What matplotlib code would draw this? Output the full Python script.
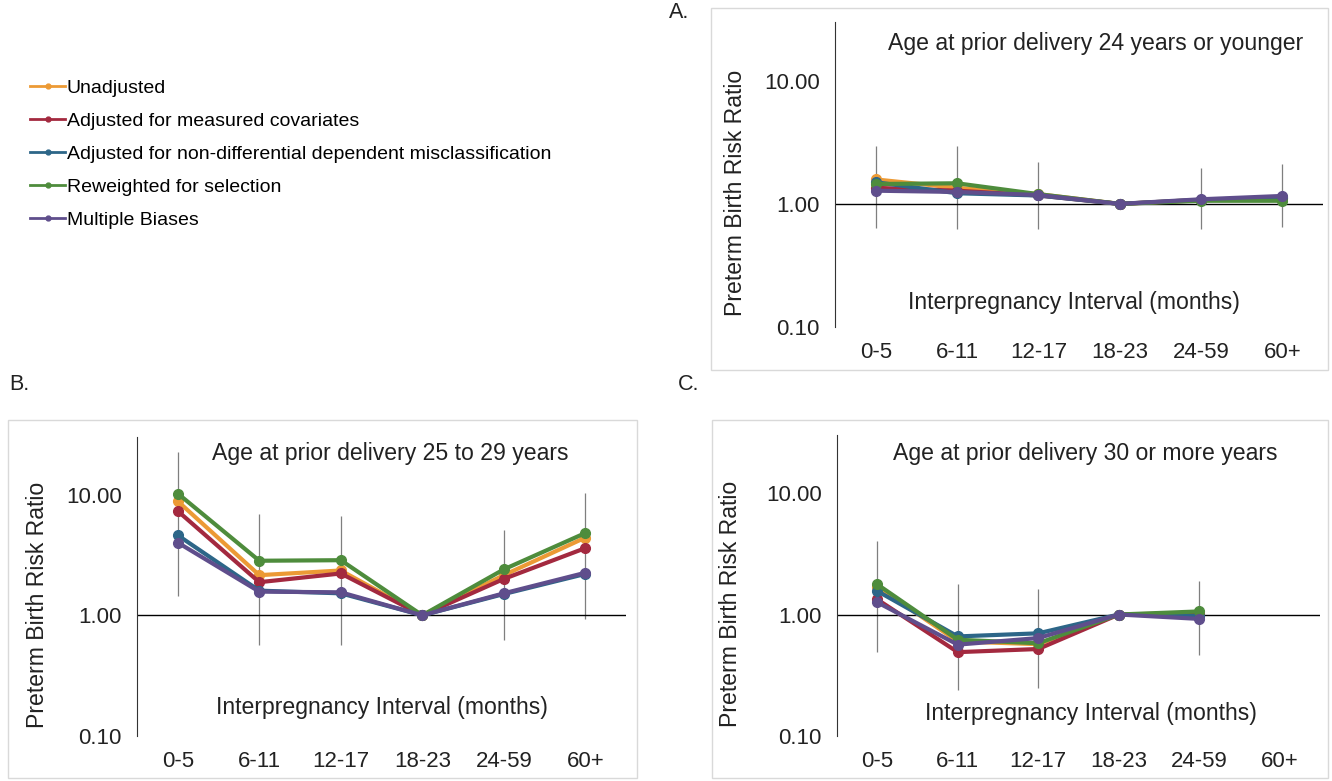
import numpy as np
import matplotlib.pyplot as plt
import matplotlib.patches as mpatches
from matplotlib.lines import Line2D
from matplotlib.ticker import FixedLocator, FixedFormatter, NullLocator

plt.rcParams['font.family'] = ['Liberation Sans', 'DejaVu Sans']

intervals = ['0-5', '6-11', '12-17', '18-23', '24-59', '60+']
series_names = ['Unadjusted',
                'Adjusted for measured covariates',
                'Adjusted for non-differential dependent misclassification',
                'Reweighted for selection',
                'Multiple Biases']
colors = ['#EC9A35', '#A3293F', '#2D6688', '#4E8C3C', '#5F4E8C']

# A. age 24 or younger
a_unadj = [1.58, 1.35, 1.20, 1.00, 1.08, 1.12]
a_adj = [1.35, 1.28, 1.17, 1.00, 1.07, 1.12]
a_misc = [1.50, 1.22, 1.17, 1.00, 1.08, 1.13]
a_rewt = [1.45, 1.47, 1.20, 1.00, 1.06, 1.06]
a_multi = [1.28, 1.25, 1.18, 1.00, 1.09, 1.16]
a_lo = [0.64, 0.62, 0.62, np.nan, 0.62, 0.65]
a_hi = [2.95, 2.95, 2.20, np.nan, 1.95, 2.10]

# B. age 25 to 29
b_unadj = [8.8, 2.15, 2.35, 1.00, 2.15, 4.4]
b_adj = [7.3, 1.88, 2.22, 1.00, 2.00, 3.6]
b_misc = [4.6, 1.60, 1.52, 1.00, 1.50, 2.2]
b_rewt = [10.2, 2.83, 2.86, 1.00, 2.40, 4.8]
b_multi = [4.0, 1.57, 1.55, 1.00, 1.52, 2.25]
b_lo = [1.45, 0.57, 0.57, np.nan, 0.63, 0.93]
b_hi = [22.5, 6.9, 6.7, np.nan, 5.05, 10.4]

# C. age 30 or more
c_unadj = [1.70, 0.60, 0.57, 1.00, 1.03, np.nan]
c_adj = [1.33, 0.49, 0.52, 1.00, 1.00, np.nan]
c_misc = [1.56, 0.66, 0.70, 1.00, 0.97, np.nan]
c_rewt = [1.77, 0.62, 0.58, 1.00, 1.06, np.nan]
c_multi = [1.26, 0.565, 0.64, 1.00, 0.92, np.nan]
c_lo = [0.49, 0.24, 0.25, np.nan, 0.46, np.nan]
c_hi = [4.00, 1.77, 1.63, np.nan, 1.88, np.nan]

fig = plt.figure(figsize=(13.32, 7.81), dpi=100, facecolor='white')

# light grey frames round each panel
for (x0, y0, w, h) in [(0.5338, 0.5262, 0.4632, 0.4635),
                       (0.0060, 0.0038, 0.4722, 0.4584),
                       (0.5345, 0.0038, 0.4625, 0.4584)]:
    fig.patches.append(mpatches.Rectangle((x0, y0), w, h, transform=fig.transFigure,
                                          fill=False, edgecolor='#d9d9d9', linewidth=1))

fig.text(669/1332, 1-13/781, 'A.', fontsize=15.5, va='center', ha='left', color='#222222')
fig.text(9/1332, 1-385/781, 'B.', fontsize=15.5, va='center', ha='left', color='#222222')
fig.text(678/1332, 1-385/781, 'C.', fontsize=15.5, va='center', ha='left', color='#222222')


def panel(rect, data, lo, hi, title, title_pos, xlab_pos, ylab_x):
    ax = fig.add_axes(rect)
    x = np.arange(len(intervals))
    ax.vlines(x, lo, hi, color='#7f7f7f', linewidth=0.9, zorder=1)
    ax.axhline(1, color='black', linewidth=1, zorder=2)
    for vals, c in zip(data, colors):
        ax.plot(x, vals, color=c, linewidth=3.0, marker='o', markersize=7, zorder=3)
    ax.set_yscale('log')
    ax.set_ylim(0.1, 30)
    ax.set_xlim(-0.5, 5.5)
    ax.yaxis.set_major_locator(FixedLocator([0.1, 1, 10]))
    ax.yaxis.set_major_formatter(FixedFormatter(['0.10', '1.00', '10.00']))
    ax.yaxis.set_minor_locator(NullLocator())
    ax.set_xticks(x)
    ax.set_xticklabels(intervals)
    ax.tick_params(axis='both', length=0, labelsize=16, colors='#222222')
    ax.tick_params(axis='x', pad=11)
    ax.tick_params(axis='y', pad=11)
    for s in ['top', 'right', 'bottom']:
        ax.spines[s].set_visible(False)
    ax.spines['left'].set_color('#333333')
    ax.set_facecolor('none')
    ax.text(title_pos[0], title_pos[1], title, transform=ax.transAxes,
            ha='center', va='center', fontsize=16.6, color='#222222')
    ax.text(xlab_pos[0], xlab_pos[1], 'Interpregnancy Interval (months)', transform=ax.transAxes,
            ha='center', va='center', fontsize=16.6, color='#222222')
    ax.text(ylab_x, 0.44, 'Preterm Birth Risk Ratio', transform=ax.transAxes, rotation=90,
            ha='center', va='center', fontsize=16.6, color='#222222')
    return ax


panel([0.6269, 0.5813, 0.3663, 0.3905], [a_unadj, a_adj, a_misc, a_rewt, a_multi], a_lo, a_hi,
      'Age at prior delivery 24 years or younger', (0.535, 0.93), (0.49, 0.08), -0.205)
panel([0.1029, 0.0576, 0.3671, 0.3829], [b_unadj, b_adj, b_misc, b_rewt, b_multi], b_lo, b_hi,
      'Age at prior delivery 25 to 29 years', (0.517, 0.946), (0.50, 0.097), -0.204)
panel([0.6284, 0.0576, 0.3626, 0.3854], [c_unadj, c_adj, c_misc, c_rewt, c_multi], c_lo, c_hi,
      'Age at prior delivery 30 or more years', (0.513, 0.937), (0.526, 0.076), -0.22)

handles = [Line2D([], [], color=c, linewidth=2.0, marker='o', markersize=3.5) for c in colors]
fig.legend(handles, series_names, loc='upper left', bbox_to_anchor=(30/1332, 1-79/781),
           frameon=False, fontsize=14.0, handlelength=1.8, handletextpad=0.1,
           labelspacing=0.80, borderaxespad=0, borderpad=0)

plt.savefig('out.png', dpi=100, facecolor=fig.get_facecolor())
